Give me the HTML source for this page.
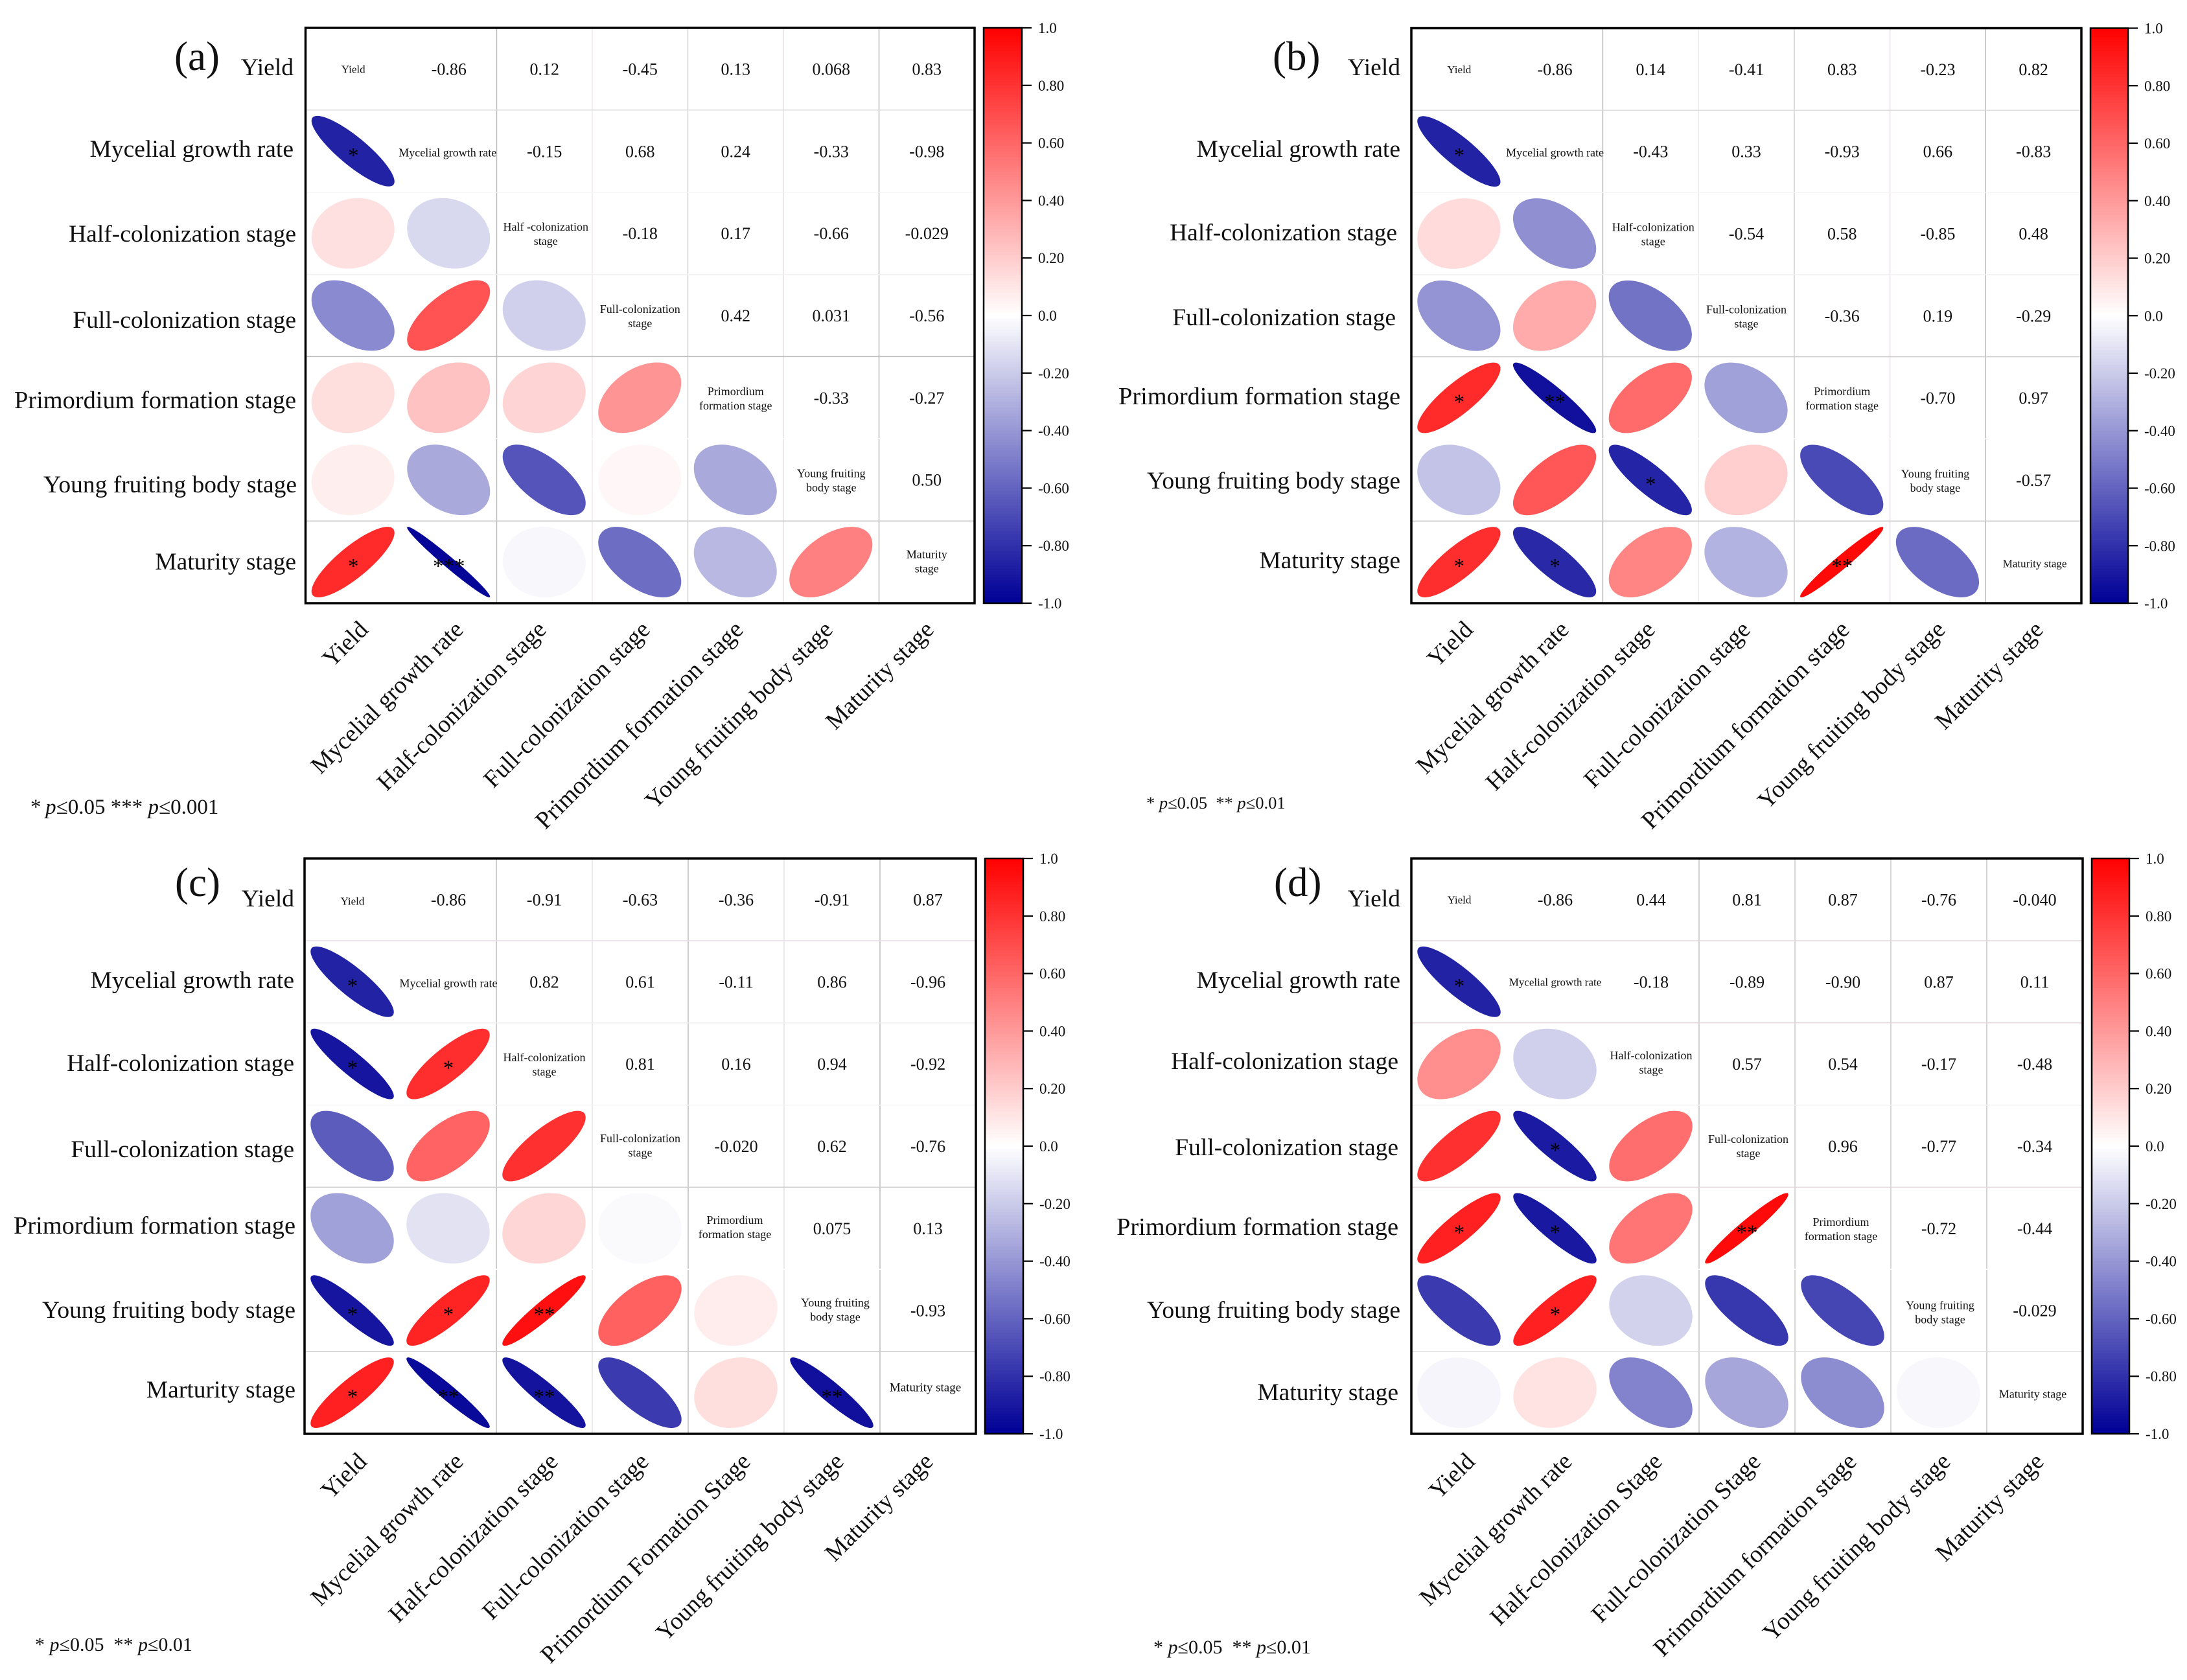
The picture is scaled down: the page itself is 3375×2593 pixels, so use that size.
<!DOCTYPE html>
<html lang="en">
<head>
<meta charset="utf-8">
<title>Correlation matrices</title>
<style>
html,body{margin:0;padding:0;background:#fff}
svg{display:block;font-family:"Liberation Serif",serif;fill:#111}
</style>
</head>
<body>
<svg id="figure" xmlns="http://www.w3.org/2000/svg" width="3375" height="2593" viewBox="0 0 3375 2593"></svg>
<script>
// Upper-triangle correlation values (row by row)
var valuesA = [[-0.86,0.12,-0.45,0.13,0.068,0.83],[-0.15,0.68,0.24,-0.33,-0.98],[-0.18,0.17,-0.66,-0.029],[0.42,0.031,-0.56],[-0.33,-0.27],[0.50]];
var valuesB = [[-0.86,0.14,-0.41,0.83,-0.23,0.82],[-0.43,0.33,-0.93,0.66,-0.83],[-0.54,0.58,-0.85,0.48],[-0.36,0.19,-0.29],[-0.70,0.97],[-0.57]];
var valuesC = [[-0.86,-0.91,-0.63,-0.36,-0.91,0.87],[0.82,0.61,-0.11,0.86,-0.96],[0.81,0.16,0.94,-0.92],[-0.020,0.62,-0.76],[0.075,0.13],[-0.93]];
var valuesD = [[-0.86,0.44,0.81,0.87,-0.76,-0.040],[-0.18,-0.89,-0.90,0.87,0.11],[0.57,0.54,-0.17,-0.48],[0.96,-0.77,-0.34],[-0.72,-0.44],[-0.029]];

// Significance marks: [row, column, number of asterisks]
var starsA = [[1,0,1],[6,0,1],[6,1,3]];
var starsB = [[1,0,1],[4,0,1],[4,1,2],[5,2,1],[6,0,1],[6,1,1],[6,4,2]];
var starsC = [[1,0,1],[2,0,1],[2,1,1],[5,0,1],[5,1,1],[5,2,2],[6,0,1],[6,1,2],[6,2,2],[6,5,2]];
var starsD = [[1,0,1],[3,1,1],[4,0,1],[4,1,1],[4,3,2],[5,1,1]];

// Category labels
var rowNamesA = ["Yield","Mycelial growth rate","Half-colonization stage","Full-colonization stage","Primordium formation stage","Young fruiting body stage","Maturity stage"];
var rowNamesC = ["Yield","Mycelial growth rate","Half-colonization stage","Full-colonization stage","Primordium formation stage","Young fruiting body stage","Marturity stage"];
var colNamesC = ["Yield","Mycelial growth rate","Half-colonization stage","Full-colonization stage","Primordium Formation Stage","Young fruiting body stage","Maturity stage"];
var colNamesD = ["Yield","Mycelial growth rate","Half-colonization Stage","Full-colonization Stage","Primordium formation stage","Young fruiting body stage","Maturity stage"];
var diagNamesA = ["Yield","Mycelial growth rate","Half -colonization\nstage","Full-colonization\nstage","Primordium\nformation stage","Young fruiting\nbody stage","Maturity\nstage"];
var diagNamesB = ["Yield","Mycelial growth rate","Half-colonization\nstage","Full-colonization\nstage","Primordium\nformation stage","Young fruiting\nbody stage","Maturity stage"];

// Colour-bar tick values
var colorbarTicks = [1.0,0.8,0.6,0.4,0.2,0.0,-0.2,-0.4,-0.6,-0.8,-1.0];

// Panel layout
var panels = [
 {key:"a",letter:"(a)",letterX:269,letterY:108,l:471.5,t:43,r:1504,b:931,cbL:1518,cbR:1577,values:valuesA,stars:starsA,
  rows:rowNamesA,cols:rowNamesA,diag:diagNamesA,colPrimSize:38.4,
  diagDx:[0,-2,2,0,0,0,0],diagDy:[0,2,0,0,0,0,-2],diagSizes:[17,18,18,18,18,18,18],
  rowRight:[453,453,457,457,457,458,457],rowBase:[116,242,373,506,630,760,879],
  colEnd:[570,717,845,1005,1149,1287,1443],colY:974,
  vGrid:["#ffffff","#bbbbbb","#f0e8ec","#d5d5d5","#e8e0e8","#bbbbbb"],hGrid:["#dddddd","#f4f4f4","#f0f0f0","#bbbbbb","#ffffff","#cccccc"],
  note:[["*\u2009",0],["p",1],["≤0.05 ***\u00a0",0],["p",1],["≤0.001",0]],noteX:47,noteY:1256,noteSize:33},
 {key:"b",letter:"(b)",letterX:1964,letterY:108,l:2178,t:43.5,r:3212,b:931,cbL:3226,cbR:3284,values:valuesB,stars:starsB,
  rows:rowNamesA,cols:rowNamesA,diag:diagNamesB,colPrimSize:38.4,
  diagDx:[0,0,4,0,0,-4,2],diagDy:[0,2,0,0,0,0,2],diagSizes:[17,18,18,18,18,18,17],
  rowRight:[2161,2161,2156,2154,2161,2161,2161],rowBase:[116,242,371,502,624,754,877],
  colEnd:[2275,2423,2556,2703,2856,3004,3155],colY:974,
  vGrid:["#ffffff","#bbbbbb","#f0e8ec","#cccccc","#e8e0e8","#bbbbbb"],hGrid:["#dddddd","#f4f4f4","#f0f0f0","#cccccc","#ffffff","#cccccc"],
  note:[["* ",0],["p",1],["≤0.05\u00a0 ** ",0],["p",1],["≤0.01",0]],noteX:1769,noteY:1248,noteSize:26.5},
 {key:"c",letter:"(c)",letterX:270,letterY:1383,l:470,t:1325,r:1506,b:2213,cbL:1520,cbR:1579,values:valuesC,stars:starsC,
  rows:rowNamesC,cols:colNamesC,diag:diagNamesB,colPrimSize:37.5,
  diagDx:[0,0,0,0,-2,5,-4],diagDy:[2,2,0,-2,-3,-2,-8],diagSizes:[17,18,18,18,18,18,19],
  rowRight:[454,454,454,454,456,456,456],rowBase:[1399,1525,1653,1786,1904,2034,2157],
  colEnd:[568,717,863,1003,1160,1304,1442],colY:2258,
  vGrid:["#ffffff","#bbbbbb","#e4e4e4","#bbbbbb","#e4e4e4","#bbbbbb"],hGrid:["#e6dfe6","#f0f0f0","#f4f4f4","#cccccc","#ffffff","#cccccc"],
  note:[["* ",0],["p",1],["≤0.05\u00a0 ** ",0],["p",1],["≤0.01",0]],noteX:54,noteY:2548,noteSize:30},
 {key:"d",letter:"(d)",letterX:1966,letterY:1383,l:2178,t:1325,r:3214,b:2213,cbL:3228,cbR:3286,values:valuesD,stars:starsD,
  rows:rowNamesA,cols:colNamesD,diag:diagNamesB,colPrimSize:37.5,
  diagDx:[0,0,0,2,-3,2,-3],diagDy:[0,0,-3,-1,0,2,2],diagSizes:[17,17,18,18,18,18,18],
  rowRight:[2161,2161,2158,2158,2158,2161,2158],rowBase:[1399,1525,1650,1783,1906,2034,2161],
  colEnd:[2278,2428,2567,2719,2867,3012,3156],colY:2258,
  vGrid:["#ffffff","#ffffff","#c4c4c4","#cccccc","#cccccc","#c4c4c4"],hGrid:["#e4d8dc","#e4d8dc","#f2f2f2","#e4d8dc","#ffffff","#dddddd"],
  note:[["* ",0],["p",1],["≤0.05\u00a0 ** ",0],["p",1],["≤0.01",0]],noteX:1780,noteY:2552,noteSize:30}
];

var SVG_NS = "http://www.w3.org/2000/svg";
var root = document.getElementById("figure");

function make(tag, parent, attrs){
  var el = document.createElementNS(SVG_NS, tag);
  for (var k in attrs) el.setAttribute(k, attrs[k]);
  parent.appendChild(el);
  return el;
}
function colorFor(v){
  var c = Math.max(-1, Math.min(1, v));
  if (c >= 0){
    var g = Math.round(255 * (1 - c));
    return "rgb(255," + g + "," + g + ")";
  }
  var a = -c;
  var rg = Math.round(255 * Math.pow(1 - a, 1.03));
  var bl = Math.round(255 - 105 * a);
  return "rgb(" + rg + "," + rg + "," + bl + ")";
}
function correlation(values, row, col){
  var lo = Math.min(row, col), hi = Math.max(row, col);
  return values[lo][hi - lo - 1];
}
function ellipsePoints(cx, cy, rx, ry, r){
  var d = Math.acos(Math.max(-1, Math.min(1, r)));
  var pts = [];
  for (var i = 0; i < 120; i++){
    var t = i / 120 * Math.PI * 2;
    pts.push((cx + rx * Math.cos(t + d / 2)).toFixed(2) + "," + (cy - ry * Math.cos(t - d / 2)).toFixed(2));
  }
  return pts.join(" ");
}

panels.forEach(function(p){
  var n = 7;
  var cw = (p.r - p.l) / n, ch = (p.b - p.t) / n;
  var xBand = function(c){ return p.l + (c + 0.5) * cw; };
  var yBand = function(r){ return p.t + (r + 0.5) * ch; };

  var g = make("g", root, {});
  
  

  var letter = make("text", g, {x:p.letterX, y:p.letterY, "font-size":63});
  letter.textContent = p.letter;
  
  

  // grid lines
  p.vGrid.forEach(function(col, i){
    var x = p.l + (i + 1) * cw;
    var line = make("line", g, {x1:x, x2:x, y1:p.t, y2:p.b, stroke:col, "stroke-width":1.5});
    
    
  });
  p.hGrid.forEach(function(col, i){
    var y = p.t + (i + 1) * ch;
    var line = make("line", g, {x1:p.l, x2:p.r, y1:y, y2:y, stroke:col, "stroke-width":1.5});
    
    
  });

  // lower triangle ellipses, upper triangle printed values, diagonal names
  for (var row = 0; row < n; row++){
    for (var col = 0; col < n; col++){
      if (row > col){
        var v = correlation(p.values, row, col);
        var ell = make("polygon", g, {points:ellipsePoints(xBand(col) - 0.5, yBand(row), cw * 0.434, ch * 0.429, v), fill:colorFor(v)});
        
        
      } else if (row < col){
        var val = correlation(p.values, row, col);
        var txt = make("text", g, {x:xBand(col), y:yBand(row) + 9, "font-size":26, "text-anchor":"middle"});
        txt.textContent = val.toPrecision(2);
        
        
      } else {
        var lines = p.diag[row].split("\n");
        lines.forEach(function(s, k){
          var off = lines.length === 1 ? 6 : (k === 0 ? -4 : 18);
          var dt = make("text", g, {x:xBand(col) + p.diagDx[row], y:yBand(row) + off + p.diagDy[row], "font-size":p.diagSizes[row], "text-anchor":"middle"});
          dt.textContent = s;
          
          
        });
      }
    }
  }

  // significance asterisks
  p.stars.forEach(function(s){
    var st = make("text", g, {x:xBand(s[1]), y:yBand(s[0]) + 17, "font-size":33, "text-anchor":"middle", fill:"#000"});
    st.textContent = new Array(s[2] + 1).join("*");
    
    
  });

  // plot frame
  var frame = make("rect", g, {x:p.l, y:p.t, width:p.r - p.l, height:p.b - p.t, fill:"none", stroke:"#000", "stroke-width":3.5});
  
  

  // row labels
  p.rows.forEach(function(name, i){
    var size = i === 4 ? 38.4 : 37.5;
    var t = make("text", g, {x:p.rowRight[i], y:p.rowBase[i], "font-size":size, "text-anchor":"end"});
    t.textContent = name;
    
    
  });

  // column labels
  p.cols.forEach(function(name, i){
    var size = i === 4 ? p.colPrimSize : 37.5;
    var t = make("text", g, {x:0, y:0, "font-size":size, "text-anchor":"end", transform:"translate(" + p.colEnd[i] + "," + p.colY + ") rotate(-45)"});
    t.textContent = name;
    
    
  });

  // colour bar
  var cb = make("g", g, {});
  
  
  var yVal = function(v){ return p.t + (1 - v) / 2 * (p.b - p.t); };
  var steps = 200;
  for (var i = 0; i < steps; i++){
    var v0 = 1 - 2 * i / steps, v1 = 1 - 2 * (i + 1) / steps;
    var seg = make("rect", cb, {x:p.cbL, y:yVal(v0), width:p.cbR - p.cbL, height:yVal(v1) - yVal(v0) + 0.6, fill:colorFor((v0 + v1) / 2)});
    
    
  }
  var cbFrame = make("path", cb, {d:"M" + p.cbL + " " + p.t + "H" + p.cbR + "V" + p.b + "H" + p.cbL + "Z", fill:"none", stroke:"#000", "stroke-width":2.5});
  
  
  colorbarTicks.forEach(function(v){
    var y = yVal(v);
    var tick = make("line", cb, {x1:p.cbR, x2:p.cbR + 15, y1:y, y2:y, stroke:"#000", "stroke-width":2.2});
    
    
    var lab = make("text", cb, {x:p.cbR + 25, y:y + 8, "font-size":23});
    lab.textContent = (v === 1 || v === -1 || v === 0) ? v.toFixed(1) : v.toFixed(2);
    
    
  });

  // footnote
  var note = make("text", g, {x:p.noteX, y:p.noteY, "font-size":p.noteSize});
  
  
  p.note.forEach(function(part){
    var ts = make("tspan", note, part[1] ? {"font-style":"italic"} : {});
    ts.textContent = part[0];
  });
});
</script>
</body>
</html>
